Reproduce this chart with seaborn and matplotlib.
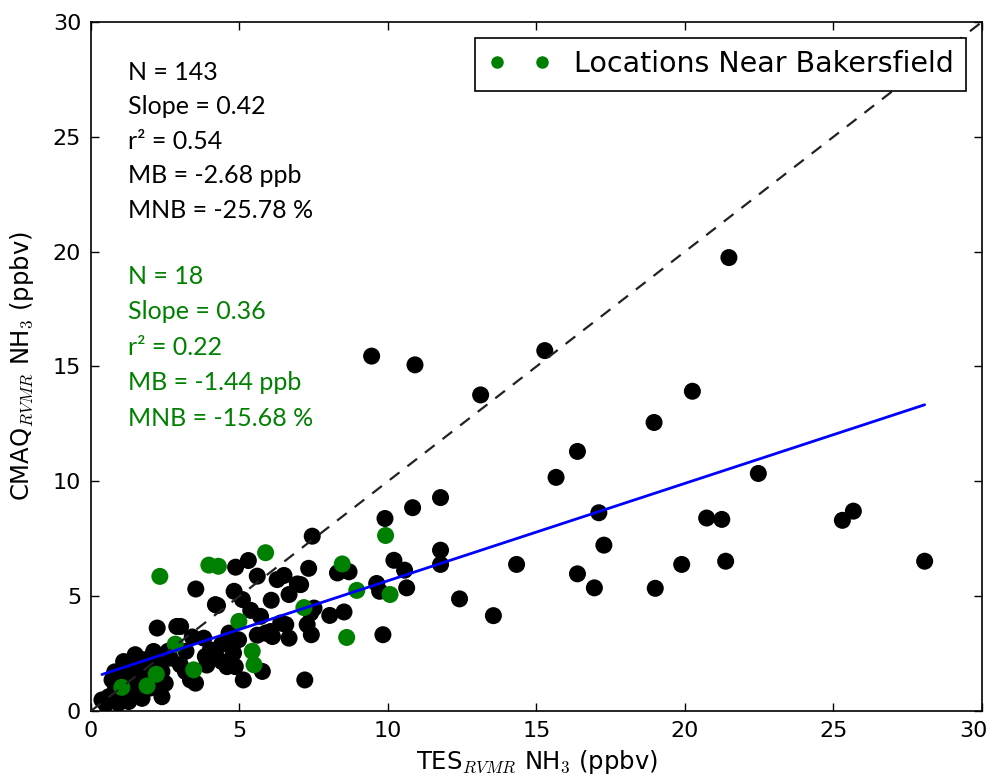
import matplotlib
matplotlib.use("Agg")
import matplotlib.pyplot as plt
import matplotlib.transforms as mtransforms
import numpy as np
import seaborn as sns
from matplotlib.lines import Line2D

# all sites (black)
tes_all = [21.48, 20.25, 18.96, 22.47, 20.73, 21.24, 25.30, 25.67, 19.89, 21.37, 28.07, 19.00,
           15.28, 13.12, 16.38, 15.66, 11.77, 17.10, 11.77, 17.27, 11.77, 14.33, 16.38, 16.95, 12.41, 13.55,
           9.45, 10.91, 10.83, 9.90, 7.45, 7.33, 10.20, 10.56, 8.30, 8.69, 9.62, 9.72, 10.63, 7.06,
           7.51, 8.04, 8.52, 7.28, 9.83, 7.42, 7.20,
           4.87, 5.30, 5.60, 6.27, 6.50, 6.95, 6.67, 3.53, 4.82, 5.10, 6.07, 4.26, 5.38, 5.71,
           3.02, 3.41, 3.80, 4.65, 4.82, 5.88, 6.11, 6.56, 6.67, 2.23, 2.89, 4.59, 5.77, 5.13,
           6.39, 6.05, 7.40,
           1.49, 1.10, 1.33, 1.77, 2.11, 2.28, 2.39, 0.37, 0.60, 0.82, 1.27, 1.49, 1.72, 2.17,
           2.39, 0.93, 1.27, 0.71, 1.10, 1.61, 2.00, 2.67, 3.01, 3.18, 3.35, 3.52, 3.85, 4.02,
           4.19, 4.41, 4.58, 4.86, 4.80, 4.97, 4.19,
           0.50, 1.00, 1.90, 2.60, 3.20, 4.40, 5.60, 2.00, 3.90, 1.50, 0.80, 2.50]
cmaq_all = [19.74, 13.92, 12.56, 10.34, 8.40, 8.34, 8.30, 8.70, 6.38, 6.52, 6.52, 5.34,
            15.69, 13.76, 11.30, 10.17, 9.29, 8.63, 7.00, 7.22, 6.38, 6.38, 5.97, 5.36, 4.88, 4.15,
            15.45, 15.07, 8.85, 8.38, 7.61, 6.21, 6.56, 6.13, 6.01, 6.06, 5.55, 5.21, 5.36, 5.50,
            4.48, 4.16, 4.31, 3.76, 3.32, 3.32, 1.35,
            6.26, 6.55, 5.87, 5.72, 5.90, 5.53, 5.07, 5.31, 5.21, 4.85, 4.82, 4.59, 4.38, 4.12,
            3.68, 3.22, 3.17, 3.39, 3.03, 3.39, 3.24, 3.76, 3.17, 3.61, 3.68, 3.10, 1.72, 1.35,
            3.83, 3.46, 4.27,
            2.45, 2.15, 1.93, 2.23, 2.59, 2.15, 1.72, 0.48, 0.62, 0.92, 1.06, 0.84, 0.55, 1.35,
            0.62, 0.34, 0.41, 1.35, 1.57, 1.43, 1.65, 2.30, 2.01, 1.72, 1.35, 1.21, 2.37, 2.66,
            2.45, 2.15, 1.93, 1.93, 2.52, 3.10, 4.63,
            0.30, 0.70, 1.90, 2.60, 2.60, 2.90, 3.30, 1.00, 2.00, 1.80, 1.70, 1.20]

# locations near Bakersfield (green)
tes_bak = [1.04, 1.89, 2.32, 2.84, 3.46, 3.97, 4.29, 4.98, 5.43, 5.49, 5.88, 7.17, 8.46, 8.61,
           8.95, 9.92, 10.07, 2.20]
cmaq_bak = [1.03, 1.09, 5.86, 2.91, 1.79, 6.35, 6.30, 3.90, 2.60, 2.01, 6.89, 4.50, 6.40, 3.20,
            5.25, 7.64, 5.07, 1.60]

fit_slope = 0.424
fit_intercept = 1.43

stats_all = ["N = 143", "Slope = 0.42", "r\u00b2 = 0.54", "MB = -2.68 ppb", "MNB = -25.78 %"]
stats_bak = ["N = 18", "Slope = 0.36", "r\u00b2 = 0.22", "MB = -1.44 ppb", "MNB = -15.68 %"]

sns.set_style("ticks")
plt.rcParams["font.family"] = ["DejaVu Sans"]
plt.rcParams["mathtext.fontset"] = "cm"
plt.rcParams["text.color"] = "black"
plt.rcParams["axes.labelcolor"] = "black"

fig = plt.figure(figsize=(9.94, 7.83), dpi=100)
ax = fig.add_axes([0.0915, 0.092, 0.8964, 0.880])

sns.scatterplot(x=tes_all, y=cmaq_all, color="black", s=150, edgecolor="none",
                linewidth=0, ax=ax, zorder=2)
sns.scatterplot(x=tes_bak, y=cmaq_bak, color="green", s=150, edgecolor="none",
                linewidth=0, ax=ax, zorder=2)

# 1:1 line
one = np.array([0, 30])
ax.plot(one, one, color="#222222", ls=(0, (5.5, 4.5)), lw=1.6, zorder=3)

# regression line
xfit = np.array([min(tes_all), max(tes_all)])
ax.plot(xfit, fit_intercept + fit_slope * xfit, color="blue", lw=2, zorder=3)

ax.set_xlim(0, 30)
ax.set_ylim(0, 30)
ax.set_xticks(range(0, 31, 5))
ax.set_yticks(range(0, 31, 5))
ax.tick_params(direction="in", top=True, right=True, length=6, width=1,
               labelsize=16, colors="black", pad=7)
for sp in ax.spines.values():
    sp.set_visible(True)
    sp.set_color("black")
    sp.set_linewidth(1.2)

# keep the last x tick label inside the figure
last = ax.get_xticklabels()[-1]
last.set_transform(last.get_transform() +
                   mtransforms.ScaledTranslation(-9 / 100, 0, fig.dpi_scale_trans))

ax.set_xlabel("TES$_{RVMR}$ NH$_3$ (ppbv)", fontsize=17.5, labelpad=5)
ax.set_ylabel("CMAQ$_{RVMR}$ NH$_3$ (ppbv)", fontsize=17.5, labelpad=12)

for i, s in enumerate(stats_all):
    ax.text(0.0415, 0.927 - i * 0.05, s, transform=ax.transAxes, va="center",
            fontsize=18, color="black", family="Lato")
for i, s in enumerate(stats_bak):
    ax.text(0.0415, 0.631 - i * 0.0515, s, transform=ax.transAxes, va="center",
            fontsize=18, color="green", family="Lato")

h = Line2D([0], [0], marker="o", ls="", color="green", markersize=8)
leg = ax.legend([h], ["Locations Near Bakersfield"], loc="upper right", numpoints=2,
                fontsize=20.5, fancybox=False, framealpha=1, edgecolor="black",
                borderaxespad=0.55, handletextpad=0.8, handlelength=2.2,
                borderpad=0.45, labelcolor="black")
leg.get_frame().set_linewidth(1.2)
leg.set_zorder(5)

fig.savefig("out.png", dpi=100, facecolor="white")
